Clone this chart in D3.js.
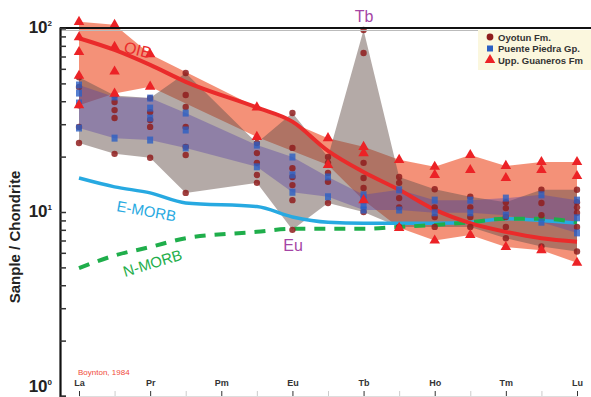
<!DOCTYPE html>
<html>
<head>
<meta charset="utf-8">
<script src="https://cdn.jsdelivr.net/npm/d3@7"></script>
<style>
  body { margin: 0; background: #fff; }
  text { font-family: "Liberation Sans", Arial, sans-serif; }
</style>
</head>
<body>
<svg id="chart" width="591" height="397"></svg>
<script>
// REE order (chondrite normalised, Boynton 1984)
var elements = ["La","Ce","Pr","Nd","Pm","Sm","Eu","Gd","Tb","Dy","Ho","Er","Tm","Yb","Lu"];
var labeledElements = ["La","Pr","Pm","Eu","Tb","Ho","Tm","Lu"];
var yTicks = [1, 10, 100];

// sample values for each element (empty = not analysed)
var oyotun = [
  [54, 47.8, 38, 29, 23.7],
  [43, 39.6, 35.8, 32.4, 20.7],
  [41.6, 34.9, 31.6, 29, 19.7],
  [56.9, 43.2, 37.2, 29, 22.6, 20.4, 12.7],
  [],
  [23.7, 20.9, 18.5, 15.9, 14.4],
  [34.5, 22.3, 17.3, 15.5, 14.0, 11.6, 8.0],
  [19.9, 18.5, 16.3, 14.6, 11.2],
  [97.5, 73.1, 18.5, 15.3, 13.5, 10.0],
  [15.5, 14.4, 11.9, 10.6, 8.3],
  [13.3, 10.6, 9.4, 8.3],
  [12.1, 10.6, 9.4, 8.3],
  [11.3, 10.5, 9.4, 8.3, 7.2],
  [13.2, 11.2, 9.6, 6.5],
  [13.2, 11.3, 10.6, 9.9, 8.3, 6.1]
];
var puentePiedra = [
  [49, 44.3, 39.1, 28.6],
  [42.2, 25.2],
  [41.6, 36.7, 32.4, 24.6],
  [34.5, 27.9, 22.3],
  [],
  [23.1, 17.6],
  [19.9, 15.9, 12.8],
  [15.5, 12.1],
  [12.4, 11.6, 10.9, 10.25],
  [13.2, 10.25],
  [11.6, 9.9],
  [11.6, 9.9],
  [11.9, 9.6],
  [12.4, 8.8],
  [11.6, 9.3, 7.7]
];
var guaneros = [
  [108, 89, 74, 55, 38],
  [104, 79, 58, 44],
  [72, 48],
  [],
  [],
  [37, 25.6],
  [],
  [25.2, 18],
  [22.6, 20.9, 11.6],
  [19.2, 8.2],
  [17.6, 15.9, 7.0],
  [20.4, 16.9, 7.5],
  [17.8, 15.3, 6.45],
  [18.7, 16.9, 6.2],
  [18.7, 15.7, 5.3]
];

// reference patterns
var oib   = [88, 76, 63, 51, null, 37, 31, 21.5, 16.5, 13.2, 10.3, 8.7, 7.8, 7.2, 6.9];
var emorb = [15.3, 13.7, 12.7, 11.2, null, 10.7, 9.4, 8.8, 8.7, 8.7, 8.7, 8.8, 9.2, 9.0, 8.7];
var nmorb = [4.96, 5.8, 6.45, 7.2, null, 7.8, 8.1, 8.1, 8.1, 8.3, 8.5, 8.8, 9.2, 9.2, 8.8];

var svg = d3.select("#chart");

var x = d3.scalePoint().domain(elements).range([79, 577]);
var y = d3.scaleLog().domain([1, 100]).range([396, 28]);

// envelopes
function envelope(data) {
  return data.map(function(vals, i) {
    return vals.length ? {el: elements[i], lo: d3.min(vals), hi: d3.max(vals)} : null;
  }).filter(function(d) { return d; });
}
var area = d3.area()
  .x(function(d) { return x(d.el); })
  .y0(function(d) { return y(d.lo); })
  .y1(function(d) { return y(d.hi); });

svg.append("path").datum(envelope(guaneros)).attr("d", area)
  .attr("fill", "rgba(240,98,62,0.7)");
svg.append("path").datum(envelope(oyotun)).attr("d", area)
  .attr("fill", "rgba(105,86,80,0.5)");
svg.append("path").datum(envelope(puentePiedra)).attr("d", area)
  .attr("fill", "rgba(92,72,165,0.42)");

// reference lines
function pts(arr) {
  return arr.map(function(v, i) { return v == null ? null : [x(elements[i]), y(v)]; })
    .filter(function(d) { return d; });
}
var line = d3.line().curve(d3.curveMonotoneX);
svg.append("path").attr("d", line(pts(emorb)))
  .attr("fill", "none").attr("stroke", "#27a9e1").attr("stroke-width", 3.5);
svg.append("path").attr("d", line(pts(nmorb)))
  .attr("fill", "none").attr("stroke", "#1fae4b").attr("stroke-width", 4)
  .attr("stroke-dasharray", "11,9");
svg.append("path").attr("d", line(pts(oib)))
  .attr("fill", "none").attr("stroke", "#ea2b2b").attr("stroke-width", 4);

// sample markers
function flat(data) {
  var out = [];
  data.forEach(function(vals, i) {
    vals.forEach(function(v) { out.push({el: elements[i], v: v}); });
  });
  return out;
}
svg.selectAll(".oy").data(flat(oyotun)).enter().append("circle")
  .attr("cx", function(d) { return x(d.el); })
  .attr("cy", function(d) { return y(d.v); })
  .attr("r", 3.2).attr("fill", "#8f1d1d").attr("opacity", 0.85);
svg.selectAll(".pp").data(flat(puentePiedra)).enter().append("rect")
  .attr("x", function(d) { return x(d.el) - 3; })
  .attr("y", function(d) { return y(d.v) - 3.5; })
  .attr("width", 6).attr("height", 7).attr("fill", "#2b5fc4").attr("opacity", 0.8);
var tri = d3.symbol().type(d3.symbolTriangle).size(48);
svg.selectAll(".ug").data(flat(guaneros)).enter().append("path")
  .attr("d", tri)
  .attr("transform", function(d) { return "translate(" + x(d.el) + "," + y(d.v) + ")"; })
  .attr("fill", "#ec2226");

// frame
svg.append("line").attr("x1", 60).attr("x2", 591).attr("y1", 28).attr("y2", 28)
  .attr("stroke", "#111").attr("stroke-width", 2);
svg.append("line").attr("x1", 60).attr("x2", 591).attr("y1", 30.5).attr("y2", 30.5)
  .attr("stroke", "#bbb").attr("stroke-width", 1);

// y axis (ticks inside)
var yAxis = d3.axisRight(y).tickSize(6).tickFormat("");
var gy = svg.append("g").attr("transform", "translate(60,0)").call(yAxis);
gy.select(".domain").attr("stroke", "#111").attr("stroke-width", 2.2);
gy.selectAll(".tick line").attr("stroke", "#333").attr("stroke-width", 1.5);

svg.selectAll(".ylab").data(yTicks).enter().append("text")
  .attr("x", 52).attr("y", function(d) { return Math.min(y(d) + 5, 392); })
  .attr("text-anchor", "end")
  .attr("font-size", 17).attr("font-weight", "bold").attr("fill", "#222")
  .text("10")
  .append("tspan").attr("dy", -7).attr("font-size", 8)
  .text(function(d) { return Math.round(Math.log10(d)); });

svg.append("text")
  .attr("transform", "translate(20,237) rotate(-90)")
  .attr("text-anchor", "middle")
  .attr("font-size", 15).attr("font-weight", "bold").attr("fill", "#222")
  .text("Sanple / Chondrite");

// x axis along the bottom, labels above
var xAxis = d3.axisTop(x).tickSize(5).tickPadding(5)
  .tickFormat(function(d) { return labeledElements.indexOf(d) >= 0 ? d : ""; });
var gx = svg.append("g").attr("transform", "translate(0,396)").call(xAxis);
gx.select(".domain").attr("stroke", "#ddd");
gx.selectAll(".tick line")
  .attr("stroke", function(d) { return labeledElements.indexOf(d) >= 0 ? "#333" : "#ccc"; });
gx.selectAll(".tick text")
  .attr("font-size", 9).attr("font-weight", "bold").attr("fill", "#333")
  .attr("font-family", "Liberation Sans, Arial, sans-serif");

// annotations
svg.append("text").attr("transform", "translate(123,52) rotate(14)")
  .attr("font-size", 16).attr("fill", "#ea2b2b").text("OIB");
svg.append("text").attr("transform", "translate(116,211) rotate(10)")
  .attr("font-size", 15).attr("fill", "#27a9e1").text("E-MORB");
svg.append("text").attr("transform", "translate(125,277) rotate(-17)")
  .attr("font-size", 15).attr("fill", "#1fae4b").text("N-MORB");
svg.append("text").attr("x", 293).attr("y", 251).attr("text-anchor", "middle")
  .attr("font-size", 16).attr("fill", "#a545a5").text("Eu");
svg.append("text").attr("x", 364).attr("y", 22).attr("text-anchor", "middle")
  .attr("font-size", 16).attr("fill", "#a545a5").text("Tb");
svg.append("text").attr("x", 78).attr("y", 375)
  .attr("font-size", 8).attr("fill", "#f04a3a").text("Boynton, 1984");

// legend
var legendNames = ["Oyotun Fm.", "Puente Piedra Gp.", "Upp. Guaneros Fm"];
var lg = svg.append("g").attr("transform", "translate(478,30)");
lg.append("rect").attr("width", 113).attr("height", 40).attr("fill", "#fbf7de");
var row = lg.selectAll(".row").data(legendNames).enter().append("g")
  .attr("transform", function(d, i) { return "translate(12," + (7 + i * 11.5) + ")"; });
row.append("path")
  .attr("d", function(d, i) {
    var t = [d3.symbolCircle, d3.symbolSquare, d3.symbolTriangle][i];
    return d3.symbol().type(t).size(i == 2 ? 48 : 36)();
  })
  .attr("fill", function(d, i) { return ["#8f1d1d", "#2b5fc4", "#ec2226"][i]; });
row.append("text").attr("x", 8).attr("y", 3.5)
  .attr("font-size", 9.5).attr("font-weight", "bold").attr("fill", "#333")
  .text(function(d) { return d; });
</script>
</body>
</html>
